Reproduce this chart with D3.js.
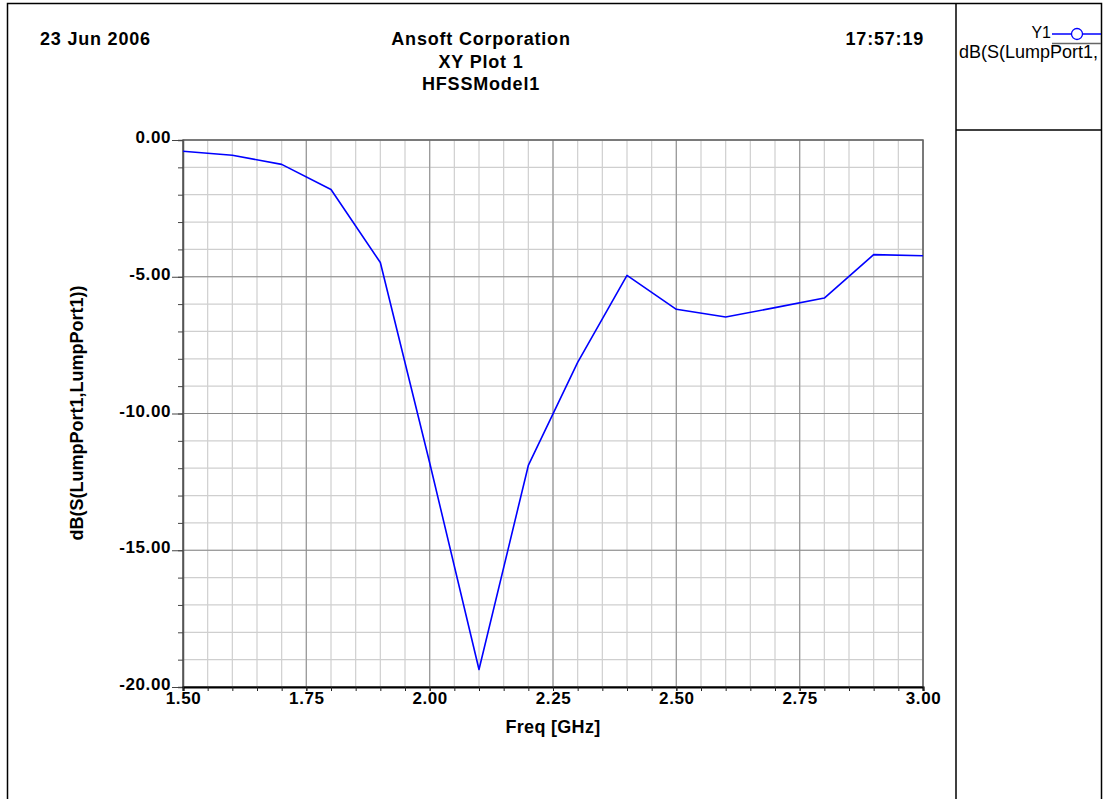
<!DOCTYPE html>
<html>
<head>
<meta charset="utf-8">
<script src="https://cdn.jsdelivr.net/npm/d3@7"></script>
<style>
  html, body { margin: 0; padding: 0; background: #fff; }
  svg { display: block; font-family: "Liberation Sans", Arial, sans-serif; }
</style>
</head>
<body>
<svg id="chart" width="1107" height="799"></svg>
<script>
// Swept frequency points (GHz) and return loss dB(S11)
const freqGHz = [1.5, 1.6, 1.7, 1.8, 1.9, 2.0, 2.1, 2.2, 2.3, 2.4, 2.5, 2.6, 2.7, 2.8, 2.9, 3.0];
const s11dB   = [-0.41, -0.56, -0.89, -1.81, -4.48, -11.8, -19.36, -11.9, -8.13, -4.95, -6.19, -6.47, -6.13, -5.78, -4.19, -4.23];

const xTicks = [1.5, 1.75, 2.0, 2.25, 2.5, 2.75, 3.0];
const yTicks = [0, -5, -10, -15, -20];
const titleLines = ["Ansoft Corporation", "XY Plot 1", "HFSSModel1"];
const dateText = "23 Jun 2006";
const timeText = "17:57:19";
const legendName = "Y1";
const legendExpr = "dB(S(LumpPort1,";
const xLabel = "Freq [GHz]";
const yLabel = "dB(S(LumpPort1,LumpPort1))";

const svg = d3.select("#chart");
const plot = { left: 183, top: 140, right: 923, bottom: 687 };
const FONT = "Liberation Sans, Arial, sans-serif";
const fmt2 = d => d.toFixed(2);   // plain hyphen minus, two decimals

const x = d3.scaleLinear().domain([1.5, 3.0]).range([plot.left, plot.right]);
const y = d3.scaleLinear().domain([-20, 0]).range([plot.bottom, plot.top]);

// Outer frame and legend panel dividers
svg.append("rect").attr("x", 7.5).attr("y", 3.5).attr("width", 1094).attr("height", 820)
  .attr("fill", "none").attr("stroke", "#000").attr("stroke-width", 1.5);
svg.append("line").attr("x1", 956).attr("x2", 956).attr("y1", 3).attr("y2", 799)
  .attr("stroke", "#000").attr("stroke-width", 1.5);
svg.append("line").attr("x1", 956).attr("x2", 1102).attr("y1", 130).attr("y2", 130)
  .attr("stroke", "#000").attr("stroke-width", 1.5);

// Header texts
svg.append("text").attr("x", 40).attr("y", 45).attr("font-size", 18).attr("font-weight", "bold")
  .attr("letter-spacing", 0.8).text(dateText);
svg.append("text").attr("x", 924).attr("y", 45).attr("font-size", 18).attr("font-weight", "bold")
  .attr("letter-spacing", 0.8).attr("text-anchor", "end").text(timeText);
svg.selectAll("text.title").data(titleLines).enter().append("text")
  .attr("class", "title")
  .attr("x", 481).attr("y", (d, i) => 45 + i * 22.5)
  .attr("font-size", 18).attr("font-weight", "bold").attr("letter-spacing", 0.8)
  .attr("text-anchor", "middle")
  .text(d => d);

// Grid: minor every 0.05 GHz / 1 dB, major at labelled ticks
const minorX = d3.range(0, 31).map(i => 1.5 + i * 0.05);
const minorY = d3.range(0, 21).map(i => -i);
const g = svg.append("g");
g.selectAll("line.mx").data(minorX).enter().append("line")
  .attr("x1", d => x(d)).attr("x2", d => x(d)).attr("y1", plot.top).attr("y2", plot.bottom)
  .attr("stroke", "#cfcfcf").attr("stroke-width", 1.2);
g.selectAll("line.my").data(minorY).enter().append("line")
  .attr("y1", d => y(d)).attr("y2", d => y(d)).attr("x1", plot.left).attr("x2", plot.right)
  .attr("stroke", "#cfcfcf").attr("stroke-width", 1.2);
g.selectAll("line.Mx").data(xTicks).enter().append("line")
  .attr("x1", d => x(d)).attr("x2", d => x(d)).attr("y1", plot.top).attr("y2", plot.bottom)
  .attr("stroke", "#999").attr("stroke-width", 1.2);
g.selectAll("line.My").data(yTicks).enter().append("line")
  .attr("y1", d => y(d)).attr("y2", d => y(d)).attr("x1", plot.left).attr("x2", plot.right)
  .attr("stroke", "#8a8a8a").attr("stroke-width", 1);

// Plot frame
svg.append("rect").attr("x", plot.left).attr("y", plot.top)
  .attr("width", plot.right - plot.left).attr("height", plot.bottom - plot.top)
  .attr("fill", "none").attr("stroke", "#666").attr("stroke-width", 1.5);

// Y axis (minor and major ticks)
const yAxisMinor = d3.axisLeft(y).tickValues(minorY).tickSize(5).tickFormat("");
svg.append("g").attr("transform", `translate(${plot.left},0)`).call(yAxisMinor)
  .call(s => s.select(".domain").attr("stroke", "#555").attr("stroke-width", 1.5))
  .call(s => s.selectAll(".tick line").attr("stroke", "#444"));
const yAxis = d3.axisLeft(y).tickValues(yTicks).tickSize(11).tickPadding(1).tickFormat(fmt2);
svg.append("g").attr("transform", `translate(${plot.left},0)`).call(yAxis)
  .call(s => s.select(".domain").remove())
  .call(s => s.selectAll(".tick line").attr("stroke", "#444"))
  .call(s => s.selectAll("text").attr("font-size", 17).attr("font-weight", "bold")
    .attr("letter-spacing", 0.6).attr("dy", "0.15em")
    .attr("fill", "#000").attr("font-family", FONT));

// X axis
const xAxisMinor = d3.axisBottom(x).tickValues(minorX).tickSize(4).tickFormat("");
svg.append("g").attr("transform", `translate(0,${plot.bottom})`).call(xAxisMinor)
  .call(s => s.select(".domain").attr("stroke", "#000").attr("stroke-width", 2.2))
  .call(s => s.selectAll(".tick line").attr("stroke", "#222"));
const xAxis = d3.axisBottom(x).tickValues(xTicks).tickSize(4).tickPadding(1).tickFormat(fmt2);
svg.append("g").attr("transform", `translate(0,${plot.bottom})`).call(xAxis)
  .call(s => s.select(".domain").remove())
  .call(s => s.selectAll(".tick line").attr("stroke", "#222"))
  .call(s => s.selectAll("text").attr("font-size", 17).attr("font-weight", "bold")
    .attr("letter-spacing", 0.6)
    .attr("fill", "#000").attr("font-family", FONT));

// Axis titles
svg.append("text").attr("x", 553).attr("y", 733).attr("text-anchor", "middle")
  .attr("font-size", 18).attr("font-weight", "bold").attr("letter-spacing", 0.3).text(xLabel);
svg.append("text").attr("transform", "translate(83,413) rotate(-90)").attr("text-anchor", "middle")
  .attr("font-size", 18).attr("font-weight", "bold").text(yLabel);

// S11 trace
const line = d3.line().x((d, i) => x(freqGHz[i])).y(d => y(d));
svg.append("path").datum(s11dB).attr("d", line)
  .attr("fill", "none").attr("stroke", "#0000ff").attr("stroke-width", 1.6)
  .attr("stroke-linejoin", "round");

// Legend panel
svg.append("text").attr("x", 1051).attr("y", 38).attr("text-anchor", "end")
  .attr("font-size", 16).text(legendName);
svg.append("line").attr("x1", 1052).attr("x2", 1101).attr("y1", 34).attr("y2", 34)
  .attr("stroke", "#0000ff").attr("stroke-width", 1.3);
svg.append("circle").attr("cx", 1077).attr("cy", 34).attr("r", 5.5)
  .attr("fill", "#fff").attr("stroke", "#0000ff").attr("stroke-width", 1.3);
svg.append("line").attr("x1", 1052).attr("x2", 1101).attr("y1", 43.5).attr("y2", 43.5)
  .attr("stroke", "#666").attr("stroke-width", 1.5);
svg.append("text").attr("x", 959).attr("y", 58).attr("font-size", 18).text(legendExpr);
</script>
</body>
</html>
